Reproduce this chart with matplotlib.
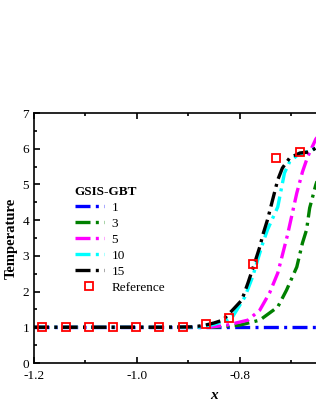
import matplotlib.pyplot as plt
from matplotlib.ticker import MultipleLocator

plt.rcParams['font.family'] = ['Liberation Serif', 'DejaVu Serif']

# values
x_flat = [-1.2, -0.9, -0.6]
t1 = [1.0, 1.0, 1.0]

x3 = [-1.2, -0.85, -0.80, -0.761, -0.742, -0.726, -0.709, -0.689, -0.678, -0.670, -0.664, -0.652, -0.64]
t3 = [1.0, 1.0, 1.06, 1.20, 1.40, 1.57, 2.04, 2.69, 3.36, 3.73, 4.34, 4.99, 5.5]

x5 = [-1.2, -0.86, -0.825, -0.784, -0.761, -0.742, -0.726, -0.713, -0.707, -0.689, -0.678, -0.668, -0.652, -0.64]
t5 = [1.0, 1.0, 1.06, 1.20, 1.48, 1.96, 2.52, 3.25, 3.59, 4.76, 5.35, 5.77, 6.27, 6.5]

x10 = [-1.2, -0.88, -0.85, -0.825, -0.814, -0.790, -0.775, -0.765, -0.755, -0.746, -0.726, -0.713,
       -0.703, -0.687, -0.664, -0.652, -0.64]
t10 = [1.0, 1.0, 1.08, 1.20, 1.29, 1.85, 2.41, 2.89, 3.36, 3.73, 4.37, 5.32,
       5.63, 5.83, 5.94, 6.02, 6.1]

x15 = [-1.2, -0.95, -0.893, -0.87, -0.85, -0.833, -0.814, -0.796, -0.784, -0.771, -0.761, -0.755,
       -0.746, -0.726, -0.717, -0.703, -0.683, -0.664, -0.652, -0.64]
t15 = [1.0, 1.0, 1.01, 1.05, 1.12, 1.20, 1.48, 1.76, 2.24, 2.80, 3.25, 3.59,
       4.01, 5.13, 5.46, 5.74, 5.88, 5.91, 6.02, 6.1]

x_ref = [-1.184, -1.138, -1.093, -1.047, -1.002, -0.956, -0.911, -0.865, -0.82, -0.774, -0.729, -0.683]
t_ref = [1.0, 1.0, 1.0, 1.0, 1.0, 1.0, 1.02, 1.08, 1.25, 2.77, 5.74, 5.91]

fig = plt.figure(figsize=(3.16, 4.09), dpi=100)
ax = fig.add_axes([34/316, 46/409, 360/316, 250/409])

dd = (4.5, 1.6, 0.9, 1.6)
lw = 2.4
ax.plot(x_flat, t1, color='#0000ff', lw=lw, dashes=dd, label='1')
ax.plot(x3, t3, color='#008000', lw=lw, dashes=dd, label='3')
ax.plot(x5, t5, color='#ff00ff', lw=lw, dashes=dd, label='5')
ax.plot(x10, t10, color='#00ffff', lw=lw, dashes=dd, label='10')
ax.plot(x15, t15, color='black', lw=lw, dashes=dd, label='15')
ax.plot(x_ref, t_ref, 's', ms=5.5, mfc='none', mec='red', mew=1.3, ls='none', label='Reference')

ax.set_xlim(-1.2, -0.5)
ax.set_ylim(0, 7)
ax.xaxis.set_major_locator(MultipleLocator(0.2))
ax.xaxis.set_minor_locator(MultipleLocator(0.1))
ax.yaxis.set_major_locator(MultipleLocator(1))
ax.yaxis.set_minor_locator(MultipleLocator(0.5))
ax.tick_params(which='both', direction='in', top=True, right=True, labelsize=9.5, width=1.2)
ax.tick_params(which='major', length=4)
ax.tick_params(which='minor', length=2.5)
ax.tick_params(axis='x', which='major', pad=5)
for s in ax.spines.values():
    s.set_linewidth(1.2)
ax.set_xticks([-1.2, -1.0, -0.8])
ax.set_xticklabels(['-1.2', '-1.0', '-0.8'])

ax.set_xlabel('x', fontsize=11, fontweight='bold', fontstyle='italic', labelpad=5)
ax.set_ylabel('Temperature', fontsize=10.5, fontweight='bold', labelpad=3)

leg = ax.legend(title='GSIS-GBT', loc='upper left', bbox_to_anchor=(0.08, 0.755), frameon=False,
                fontsize=9.5, handlelength=2.2, handletextpad=0.6, labelspacing=0.28, alignment='left',
                title_fontproperties={'weight': 'bold', 'size': 9.5})

fig.savefig('out.png', dpi=100)
